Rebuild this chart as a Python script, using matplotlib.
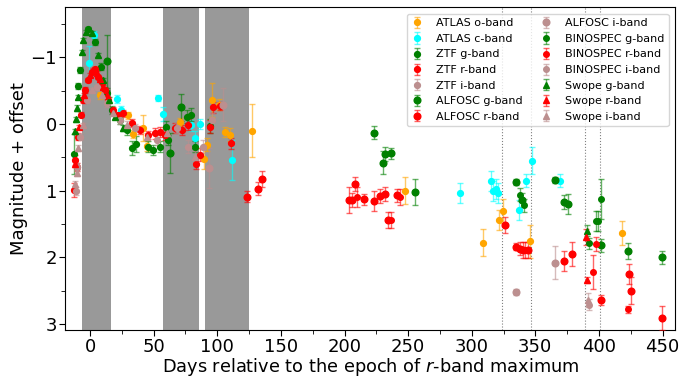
import matplotlib
matplotlib.use("Agg")
import matplotlib.pyplot as plt
from matplotlib.ticker import MultipleLocator

# ---- data: (days, magnitude + offset, error) ------------------------------
atlas_o_t = [7.9, 30.1, 34.1, 41.5, 45.1, 70.8, 89.7, 91.8, 96.2, 101.7, 105.7,
             109.6, 127.2, 247.8, 309.0, 321.3, 324.4, 345.6, 418.3]
atlas_o_m = [-0.43, -0.13, 0.15, 0.06, 0.33, -0.03, 0.53, 0.31, -0.36, -0.29,
             0.12, 0.16, 0.10, 1.00, 1.78, 1.44, 1.30, 1.76, 1.63]
atlas_o_e = [0.05, 0.05, 0.06, 0.20, 0.08, 0.06, 0.15, 0.10, 0.25, 0.08, 0.08,
             0.10, 0.40, 0.20, 0.20, 0.15, 0.18, 0.25, 0.18]

atlas_c_t = [-0.5, 3.4, 21.0, 24.4, 53.2, 57.2, 79.5, 82.6, 86.5, 111.5, 290.6,
             315.5, 316.6, 319.2, 320.8, 337.1, 343.0, 347.5, 369.8]
atlas_c_m = [-0.92, -1.34, -0.37, -0.21, -0.39, -0.15, 0.02, 0.21, 0.00, 0.54,
             1.03, 0.86, 1.00, 0.98, 1.04, 1.29, 0.85, 0.55, 0.85]
atlas_c_e = [0.25, 0.05, 0.06, 0.06, 0.05, 0.10, 0.08, 0.10, 0.08, 0.30, 0.15,
             0.15, 0.15, 0.15, 0.15, 0.15, 0.10, 0.20, 0.10]

ztf_g_t = [-12.6, -9.2, -7.9, -1.3, 3.9, 8.4, 13.1, 17.1, 23.6, 28.9, 32.8,
           36.2, 45.9, 49.8, 55.1, 59.8, 61.6, 76.1, 79.2, 82.6, 93.9]
ztf_g_m = [0.45, -0.57, -0.81, -1.42, -1.23, -0.86, -0.46, -0.21, -0.06, 0.09,
           0.36, 0.30, 0.34, 0.39, 0.34, 0.04, 0.24, -0.11, -0.14, 0.34, 0.03]
ztf_g_e = [0.30, 0.05, 0.05, 0.04, 0.04, 0.05, 0.05, 0.06, 0.06, 0.08, 0.10,
           0.12, 0.08, 0.08, 0.08, 0.08, 0.08, 0.10, 0.10, 0.08, 0.10]

ztf_r_t = [-12.6, -11.8, -10.5, -9.2, -7.3, -5.7, -3.9, -1.3, 1.3, 3.9, 6.5,
           9.2, 11.8, 14.4, 18.3, 22.3, 26.2, 32.8, 39.3, 45.9, 51.1, 55.1,
           59.0, 66.9, 72.1, 76.9, 83.2, 86.5, 94.4, 96.5, 102.3, 110.7]
ztf_r_m = [0.99, 0.54, 0.64, 0.19, -0.14, -0.36, -0.51, -0.66, -0.78, -0.82,
           -0.71, -0.61, -0.51, -0.36, -0.21, -0.13, -0.16, -0.01, 0.09, 0.16,
           0.14, 0.12, 0.16, 0.06, 0.09, 0.01, 0.60, 0.46, 0.04, -0.25, -0.27,
           0.29]
ztf_r_e = [0.10, 0.08, 0.06, 0.05, 0.04, 0.04, 0.04, 0.03, 0.03, 0.03, 0.03,
           0.04, 0.04, 0.05, 0.05, 0.05, 0.05, 0.06, 0.06, 0.06, 0.08, 0.08,
           0.08, 0.08, 0.08, 0.08, 0.08, 0.10, 0.10, 0.08, 0.06, 0.08]

ztf_i_t = [-11.0, -10.0, -7.9, -2.6, 5.3, 13.1, 23.6, 35.4, 52.5, 68.2, 77.3,
           89.1, 95.7]
ztf_i_m = [1.00, 0.64, 0.19, -0.36, -0.55, -0.31, -0.06, 0.06, 0.24, 0.06,
           0.34, 0.34, -0.06]
ztf_i_e = [0.06, 0.05, 0.05, 0.04, 0.04, 0.05, 0.06, 0.06, 0.08, 0.08, 0.10,
           0.10, 0.10]

alfosc_g_t = [13.1, 62.9, 71.4, 222.9, 230.0, 231.6, 236.6, 255.2, 335.2,
              339.4, 365.1, 372.7, 375.6, 402.0, 423.0, 449.8]
alfosc_g_m = [-0.94, 0.44, -0.25, 0.13, 0.58, 0.45, 0.44, 1.02, 0.87, 1.14,
              0.84, 1.17, 1.20, 1.82, 1.90, 2.00]
alfosc_g_e = [0.40, 0.30, 0.20, 0.10, 0.17, 0.10, 0.08, 0.20, 0.04, 0.10,
              0.05, 0.10, 0.15, 0.10, 0.12, 0.10]

alfosc_r_t = [123.3, 131.7, 135.1, 203.3, 205.9, 208.5, 215.0, 222.9, 227.6,
              231.6, 234.2, 241.3, 326.5, 334.9, 337.7, 340.4, 344.0, 372.4,
              379.2, 402.0, 423.8, 425.4, 449.8]
alfosc_r_m = [1.09, 0.97, 0.82, 1.14, 1.14, 0.90, 1.13, 1.15, 1.08, 1.05,
              1.44, 1.07, 1.52, 1.84, 1.87, 1.89, 1.89, 2.06, 1.95, 2.64,
              2.25, 2.50, 2.91]
alfosc_r_e = [0.08, 0.10, 0.12, 0.20, 0.10, 0.10, 0.08, 0.15, 0.10, 0.10,
              0.12, 0.10, 0.12, 0.05, 0.10, 0.12, 0.12, 0.15, 0.18, 0.08,
              0.15, 0.20, 0.18]

alfosc_i_t = [93.1, 104.1, 335.2, 365.4]
alfosc_i_m = [0.66, -0.29, 2.52, 2.08]
alfosc_i_e = [0.30, 0.25, 0.05, 0.25]

binospec_g_t = [338.3, 341.3, 392.0, 397.9, 399.4, 401.5]
binospec_g_m = [1.06, 1.22, 1.79, 1.45, 1.45, 1.12]
binospec_g_e = [0.10, 0.10, 0.08, 0.15, 0.15, 0.30]

binospec_r_t = [209.8, 236.6, 243.3, 342.2, 395.5, 397.6, 422.7]
binospec_r_m = [1.10, 1.44, 1.10, 1.89, 2.22, 1.80, 2.78]
binospec_r_e = [0.15, 0.12, 0.12, 0.12, 0.25, 0.10, 0.05]

binospec_i_t = [392.3]
binospec_i_m = [2.71]
binospec_i_e = [0.08]

swope_g_t = [-12.1, -11.0, -10.5, -9.7, -6.3, -5.2, -3.1, 1.3, 6.0, 10.5, 15.2,
             19.7, 26.2, 390.8]
swope_g_m = [0.11, -0.07, -0.24, -0.41, -1.08, -1.26, -1.38, -1.36, -1.03,
             -0.66, -0.36, -0.11, 0.06, 1.60]
swope_g_e = [0.04, 0.04, 0.04, 0.03, 0.03, 0.03, 0.03, 0.03, 0.03, 0.03, 0.04,
             0.04, 0.05, 0.08]

swope_r_t = [-12.0, -8.5, -4.5, 0.0, 2.6, 5.3, 7.9, 10.5, 13.1, 390.0, 390.8]
swope_r_m = [0.60, 0.05, -0.43, -0.74, -0.81, -0.76, -0.67, -0.56, -0.44, 1.69,
             2.34]
swope_r_e = [0.04, 0.03, 0.03, 0.03, 0.03, 0.03, 0.03, 0.03, 0.03, 0.12, 0.05]

swope_i_t = [-11.5, -10.5, -9.2, -5.2, 1.3, 9.2, 18.3, 28.9, 44.6, 60.3, 82.6,
             391.6]
swope_i_m = [0.90, 0.74, 0.36, 0.02, -0.51, -0.43, -0.16, 0.01, 0.19, 0.14,
             0.49, 2.64]
swope_i_e = [0.04, 0.04, 0.04, 0.03, 0.03, 0.03, 0.04, 0.05, 0.05, 0.06, 0.08,
             0.10]

gaps = [(-6.6, 16.3), (57.7, 85.9), (90.5, 124.6)]
vlines = [324, 347, 389, 401]

SERIES = [
    ("ATLAS o-band", atlas_o_t, atlas_o_m, atlas_o_e, "orange", "o", 4.2),
    ("ATLAS c-band", atlas_c_t, atlas_c_m, atlas_c_e, "cyan", "o", 4.2),
    ("ZTF g-band", ztf_g_t, ztf_g_m, ztf_g_e, "green", "o", 4.2),
    ("ZTF r-band", ztf_r_t, ztf_r_m, ztf_r_e, "red", "o", 4.2),
    ("ZTF i-band", ztf_i_t, ztf_i_m, ztf_i_e, "rosybrown", "o", 4.2),
    ("ALFOSC g-band", alfosc_g_t, alfosc_g_m, alfosc_g_e, "green", "o", 4.8),
    ("ALFOSC r-band", alfosc_r_t, alfosc_r_m, alfosc_r_e, "red", "o", 4.8),
    ("ALFOSC i-band", alfosc_i_t, alfosc_i_m, alfosc_i_e, "rosybrown", "o", 4.8),
    ("BINOSPEC g-band", binospec_g_t, binospec_g_m, binospec_g_e, "green", "o", 4),
    ("BINOSPEC r-band", binospec_r_t, binospec_r_m, binospec_r_e, "red", "o", 4),
    ("BINOSPEC i-band", binospec_i_t, binospec_i_m, binospec_i_e, "rosybrown", "o", 4),
    ("Swope g-band", swope_g_t, swope_g_m, swope_g_e, "green", "^", 4),
    ("Swope r-band", swope_r_t, swope_r_m, swope_r_e, "red", "^", 4),
    ("Swope i-band", swope_i_t, swope_i_m, swope_i_e, "rosybrown", "^", 4),
]

fig = plt.figure(figsize=(6.8, 3.78), dpi=100)
ax = fig.add_axes([0.096, 0.127, 0.897, 0.854])

for lo, hi in gaps:
    ax.axvspan(lo, hi, color="gray", alpha=0.8, lw=0, zorder=0)
for x in vlines:
    ax.axvline(x, color="gray", ls=":", lw=0.8, zorder=0)

for label, t, m, e, col, mk, ms in SERIES:
    _, caps, bars = ax.errorbar(t, m, yerr=e, fmt=mk, color=col, ms=ms,
                                capsize=2, elinewidth=1.0, label=label,
                                zorder=3)
    for c in caps:
        c.set_alpha(0.6)
    for b in bars:
        b.set_alpha(0.6)

ax.set_xlim(-19.5, 460)
ax.set_ylim(3.09, -1.75)
ax.xaxis.set_major_locator(MultipleLocator(50))
ax.xaxis.set_minor_locator(MultipleLocator(25))
ax.yaxis.set_major_locator(MultipleLocator(1))
ax.yaxis.set_minor_locator(MultipleLocator(0.5))
ax.tick_params(which="major", labelsize=13, length=4, pad=2)
ax.tick_params(which="minor", length=3)
ax.set_xlabel("Days relative to the epoch of $r$-band maximum", fontsize=12.8,
              labelpad=0)
ax.set_ylabel("Magnitude + offset", fontsize=13, labelpad=2)
ax.legend(loc="upper right", ncol=2, fontsize=8, framealpha=0.8,
          handlelength=1.0, handletextpad=1.2, columnspacing=1.6,
          borderaxespad=0.6)

fig.savefig("out.png", dpi=100)
